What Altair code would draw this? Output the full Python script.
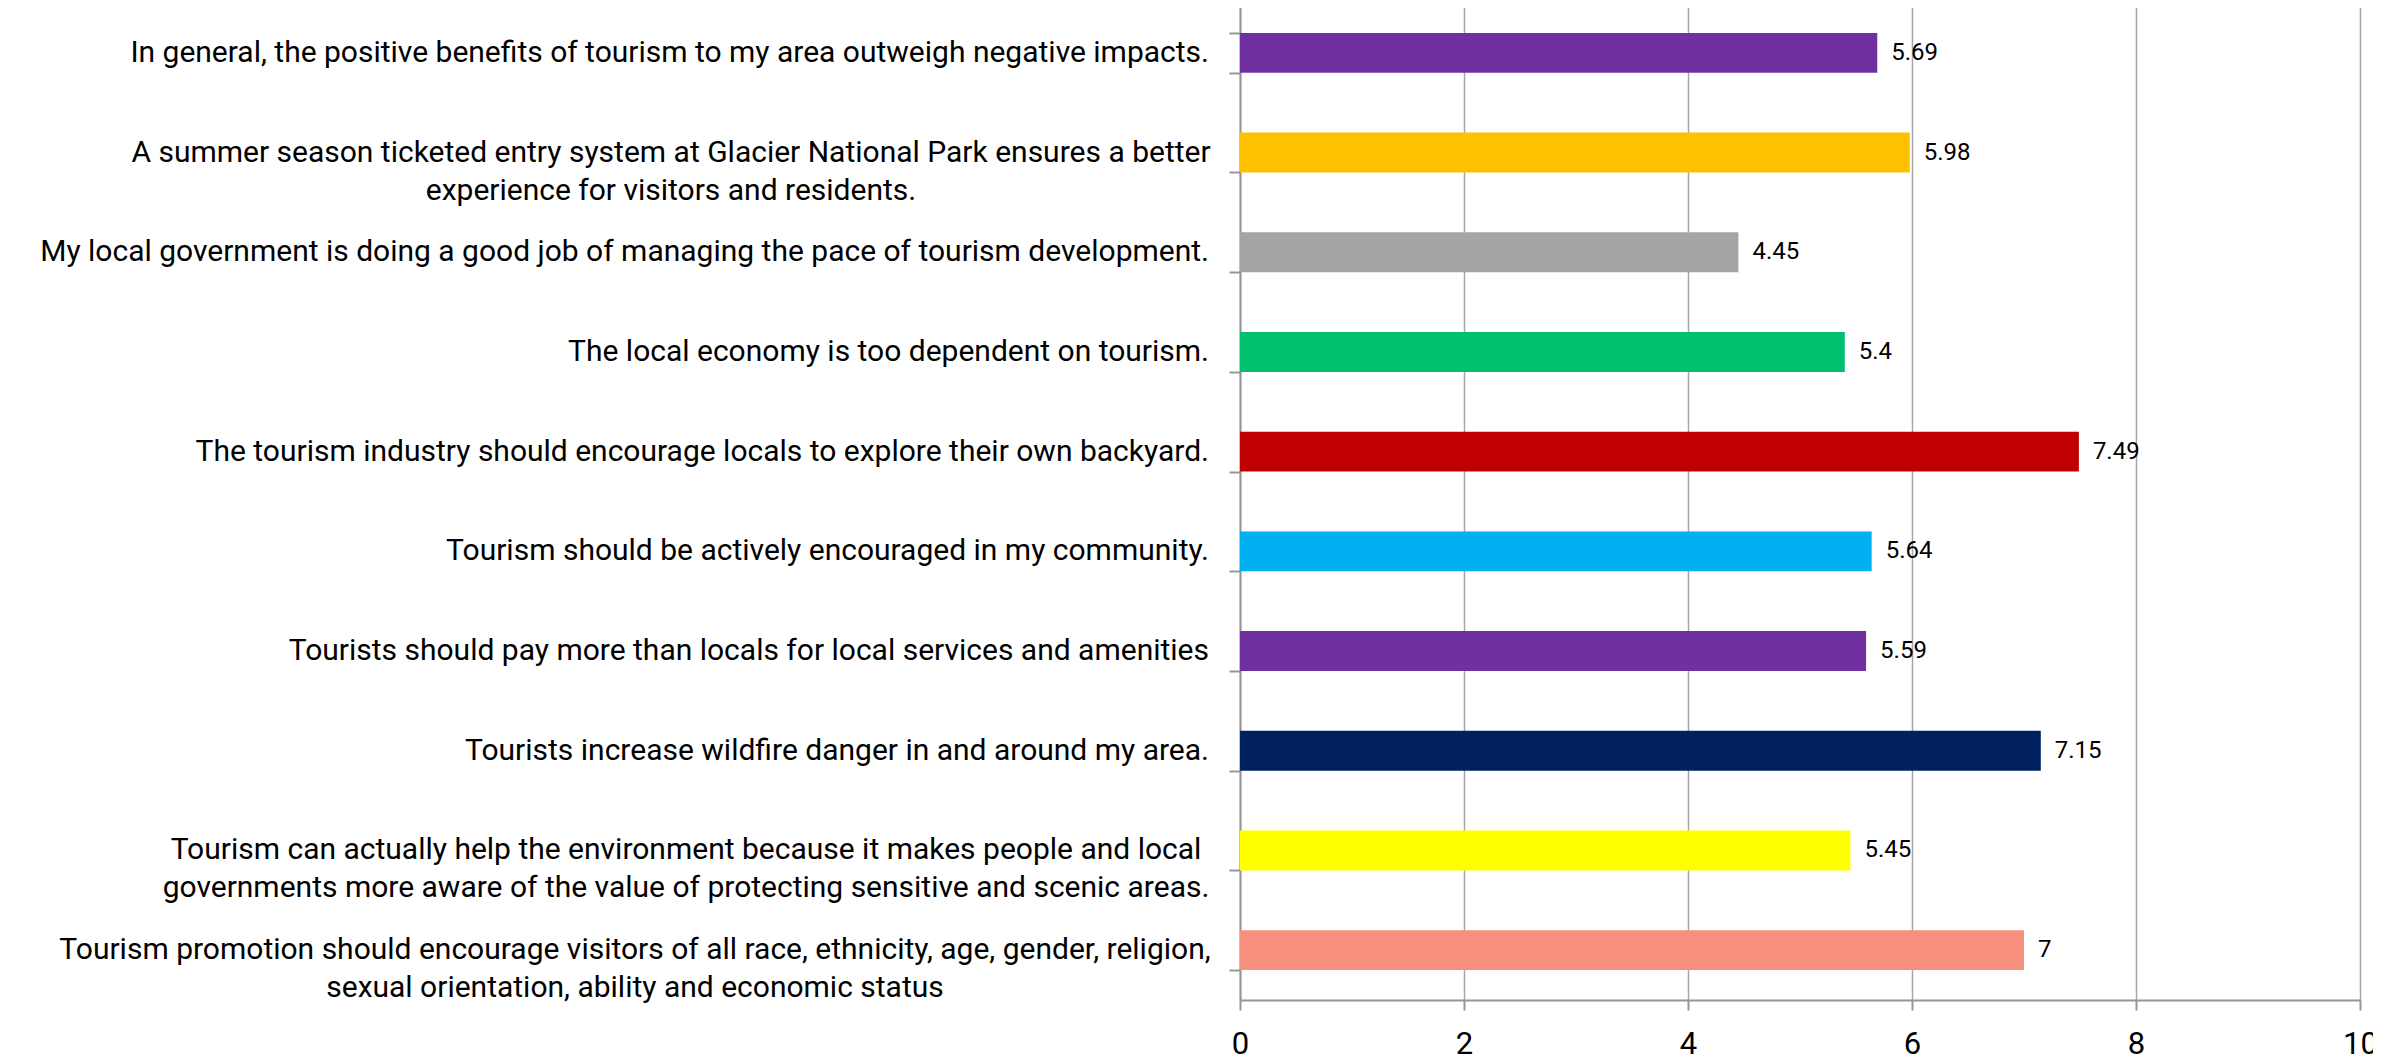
import altair as alt
import pandas as pd

categories = [
    "In general, the positive benefits of tourism to my area outweigh negative impacts.",
    "A summer season ticketed entry system at Glacier National Park ensures a better\nexperience for visitors and residents.",
    "My local government is doing a good job of managing the pace of tourism development.",
    "The local economy is too dependent on tourism.",
    "The tourism industry should encourage locals to explore their own backyard.",
    "Tourism should be actively encouraged in my community.",
    "Tourists should pay more than locals for local services and amenities",
    "Tourists increase wildfire danger in and around my area.",
    "Tourism can actually help the environment because it makes people and local\ngovernments more aware of the value of protecting sensitive and scenic areas.",
    "Tourism promotion should encourage visitors of all race, ethnicity, age, gender, religion,\nsexual orientation, ability and economic status",
]
values = [5.69, 5.98, 4.45, 5.4, 7.49, 5.64, 5.59, 7.15, 5.45, 7]
value_labels = ["5.69", "5.98", "4.45", "5.4", "7.49", "5.64", "5.59", "7.15", "5.45", "7"]
colors = ["#7030A0", "#FFC000", "#A5A5A5", "#00BF6F", "#C00000",
          "#00B0F0", "#7030A0", "#002060", "#FFFF00", "#F78F7F"]
x_ticks = [0, 2, 4, 6, 8, 10]

df = pd.DataFrame({"statement": categories, "score": values, "label": value_labels})

# ---- styling ----
FONT = "Roboto"
AXIS_GRAY = "#969696"
GRID_GRAY = "#A6A6A6"
CAT_FONT_SIZE = 30
CAT_LINE_HEIGHT = 38
LABEL_GAP = 31  # tick length + padding between label and axis
# wrapped labels: half width of the widest line, so the lines are centred on each other
WRAP_HALF_WIDTH = [538, 523, 574]

y_axis = alt.Axis(
    title=None,
    labels=False,
    tickBand="extent",
    tickSize=11,
    tickColor=AXIS_GRAY,
    tickWidth=2,
    domainColor=AXIS_GRAY,
    domainWidth=2,
    grid=False,
)

x_axis = alt.Axis(
    title=None,
    values=x_ticks,
    format="d",
    grid=True,
    gridColor=GRID_GRAY,
    gridWidth=1.5,
    domainColor=AXIS_GRAY,
    domainWidth=2,
    tickColor=AXIS_GRAY,
    tickWidth=2,
    tickSize=10,
    labelFont=FONT,
    labelFontSize=31,
    labelColor="#000000",
    labelPadding=19,
    labelFlush=False,
)

base = alt.Chart(df).encode(
    y=alt.Y(
        "statement:N",
        sort=categories,
        axis=y_axis,
        scale=alt.Scale(paddingInner=0.6, paddingOuter=0.3),
    )
)

bars = base.mark_bar().encode(
    x=alt.X("score:Q", axis=x_axis, scale=alt.Scale(domain=[0, 10], nice=False)),
    color=alt.Color("statement:N", scale=alt.Scale(domain=categories, range=colors), legend=None),
)

values_text = base.mark_text(
    align="left", baseline="middle", dx=14, font=FONT, fontSize=24, color="#000000"
).encode(
    x=alt.X("score:Q"),
    text=alt.Text("label:N"),
)

# category labels (single line: right aligned next to the axis)
single_labels = (
    base.transform_filter("indexof(datum.statement, '\\n') < 0")
    .mark_text(align="right", baseline="middle", dx=-LABEL_GAP, font=FONT,
               fontSize=CAT_FONT_SIZE, color="#000000")
    .encode(x=alt.value(0), text=alt.Text("statement:N"))
)

layers = [bars, values_text, single_labels]

# wrapped labels: lines centred on each other
wrapped = [c for c in categories if "\n" in c]
for cat, half in zip(wrapped, WRAP_HALF_WIDTH):
    layers.append(
        base.transform_filter(alt.FieldEqualPredicate(field="statement", equal=cat))
        .transform_calculate(lines="split(datum.statement, '\\n')")
        .mark_text(align="center", baseline="middle", dx=-(LABEL_GAP + half),
                   font=FONT, fontSize=CAT_FONT_SIZE, lineHeight=CAT_LINE_HEIGHT,
                   color="#000000")
        .encode(x=alt.value(0), text=alt.Text("lines:N"))
    )

chart = (
    alt.layer(*layers)
    .properties(
        width=1120,
        height=997,
        autosize=alt.AutoSizeParams(type="none"),
        padding={"left": 1232, "top": -5, "right": 13, "bottom": 60},
    )
    .configure_view(stroke=None)
)

chart.save("out.html", embed_options={"renderer": "svg", "actions": False})
